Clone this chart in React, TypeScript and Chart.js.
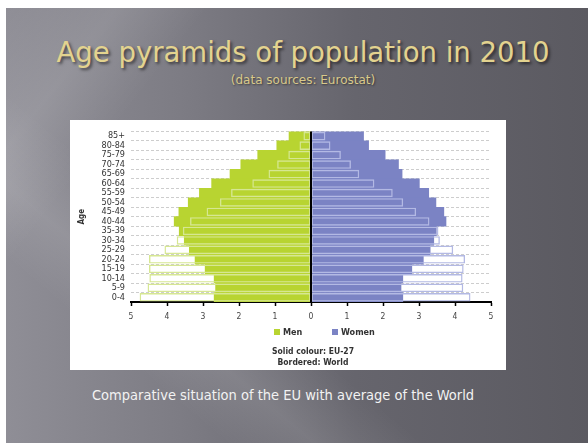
import React, { useEffect, useRef } from "react";
import { Chart, registerables } from "chart.js";

Chart.register(...registerables);

// ---- data (percent of total population) ----
const ageGroups = [
  "85+", "80-84", "75-79", "70-74", "65-69", "60-64", "55-59", "50-54", "45-49",
  "40-44", "35-39", "30-34", "25-29", "20-24", "15-19", "10-14", "5-9", "0-4",
];
const menEU = [0.61, 0.95, 1.48, 1.95, 2.25, 2.76, 3.1, 3.41, 3.67, 3.8, 3.66, 3.52, 3.38, 3.22, 2.94, 2.69, 2.65, 2.69];
const menWorld = [0.21, 0.32, 0.63, 0.94, 1.18, 1.63, 2.22, 2.53, 2.9, 3.36, 3.56, 3.73, 4.07, 4.5, 4.5, 4.49, 4.54, 4.76];
const womenEU = [1.46, 1.6, 2.06, 2.43, 2.53, 3.01, 3.27, 3.47, 3.69, 3.75, 3.48, 3.41, 3.31, 3.12, 2.8, 2.55, 2.5, 2.55];
const womenWorld = [0.4, 0.54, 0.83, 1.11, 1.34, 1.76, 2.27, 2.56, 2.92, 3.29, 3.54, 3.58, 3.95, 4.28, 4.24, 4.21, 4.23, 4.43];
const axisMin = -5;
const axisMax = 5;
const legendLabels = ["Men", "Women"];
const noteLines = ["Solid colour: EU-27", "Bordered: World"];

const NARROW = "'Liberation Sans Narrow', 'DejaVu Sans Condensed', 'Arial Narrow', sans-serif";

const extrasPlugin = {
  id: "pyramidExtras",
  afterDatasetsDraw(chart: any) {
    const { ctx, chartArea, scales } = chart;
    const x0 = scales.x.getPixelForValue(0);
    ctx.save();
    ctx.strokeStyle = "#000";
    ctx.lineWidth = 2;
    ctx.beginPath();
    ctx.moveTo(x0, chartArea.top);
    ctx.lineTo(x0, chartArea.bottom);
    ctx.stroke();
    ctx.restore();
  },
  afterDraw(chart: any) {
    const { ctx, chartArea, scales } = chart;
    const x0 = scales.x.getPixelForValue(0);
    const ds = chart.data.datasets;
    const offsets = [-37, 21];
    ctx.save();
    ctx.font = `bold 9px ${NARROW}`;
    ctx.textBaseline = "middle";
    ctx.textAlign = "left";
    const ly = chartArea.bottom + 30;
    legendLabels.forEach((lab, i) => {
      const sx = x0 + offsets[i];
      ctx.fillStyle = ds[i].backgroundColor;
      ctx.fillRect(sx, ly - 3, 6, 6);
      ctx.fillStyle = "#333";
      ctx.fillText(lab, sx + 9, ly + 0.5);
    });
    ctx.textAlign = "center";
    ctx.font = `bold 8.5px ${NARROW}`;
    noteLines.forEach((t, i) => {
      ctx.fillText(t, x0 + 2, chartArea.bottom + 50 + i * 10.5);
    });
    ctx.restore();
  },
};

function PyramidChart() {
  const ref = useRef<HTMLCanvasElement | null>(null);
  useEffect(() => {
    if (!ref.current) return;
    const chart = new Chart(ref.current, {
      type: "bar",
      data: {
        labels: ageGroups,
        datasets: [
          {
            label: legendLabels[0],
            data: menEU.map((v) => -v),
            backgroundColor: "#b8d431",
            borderWidth: 0,
            barPercentage: 1,
            categoryPercentage: 1,
            grouped: false,
            order: 1,
          },
          {
            label: legendLabels[1],
            data: womenEU,
            backgroundColor: "#7b83c4",
            borderWidth: 0,
            barPercentage: 1,
            categoryPercentage: 1,
            grouped: false,
            order: 1,
          },
          {
            label: "Men (World)",
            data: menWorld.map((v) => -v),
            backgroundColor: "rgba(255,255,255,0)",
            borderColor: "#d6e792",
            borderWidth: 1.4,
            borderSkipped: false,
            barPercentage: 0.9,
            categoryPercentage: 1,
            grouped: false,
            order: 0,
          },
          {
            label: "Women (World)",
            data: womenWorld,
            backgroundColor: "rgba(255,255,255,0)",
            borderColor: "#b3b9e4",
            borderWidth: 1.4,
            borderSkipped: false,
            barPercentage: 0.9,
            categoryPercentage: 1,
            grouped: false,
            order: 0,
          },
        ],
      },
      options: {
        indexAxis: "y",
        animation: false,
        responsive: false,
        events: [],
        layout: { padding: { top: 11, right: 15, left: 0, bottom: 0 } },
        plugins: {
          legend: { display: false },
          tooltip: { enabled: false },
          title: { display: false },
        },
        scales: {
          x: {
            type: "linear",
            min: axisMin,
            max: axisMax,
            afterFit: (s: any) => {
              s.height = 68;
            },
            ticks: {
              stepSize: 1,
              padding: 6,
              color: "#444",
              font: { size: 8.5, family: NARROW },
              callback: (v: any) => String(Math.abs(Number(v))),
            },
            grid: {
              drawOnChartArea: false,
              drawTicks: true,
              tickLength: 4,
              tickColor: "#000",
              tickWidth: 1.5,
            },
            border: { display: true, color: "#000", width: 2 },
          },
          y: {
            type: "category",
            afterFit: (s: any) => {
              s.width = 61;
            },
            ticks: {
              padding: 6,
              color: "#333",
              autoSkip: false,
              font: { size: 9, family: NARROW },
            },
            grid: {
              color: "#cdcdcd",
              lineWidth: 1,
              drawTicks: false,
            },
            border: { display: false, dash: [3, 2] },
            title: {
              display: true,
              text: "Age",
              color: "#333",
              font: { size: 8, weight: "bold", family: NARROW },
              padding: { top: 7, bottom: 0 },
            },
          },
        },
      },
      plugins: [extrasPlugin],
    } as any);
    return () => chart.destroy();
  }, []);
  return <canvas ref={ref} width={436} height={250} style={{ display: "block" }} />;
}

export default function App() {
  return (
    <div
      style={{
        position: "absolute",
        left: 6,
        top: 8,
        width: 582,
        height: 435,
        overflow: "hidden",
        background:
          "linear-gradient(128deg, rgba(255,255,255,0) 0%, rgba(255,255,255,0.10) 12%, rgba(255,255,255,0) 22%), " +
          "linear-gradient(40deg, rgba(255,255,255,0) 20%, rgba(255,255,255,0.10) 28%, rgba(255,255,255,0) 38%), " +
          "linear-gradient(90deg, #8f8e96 0%, #7d7c84 30%, #66656d 60%, #5b5a61 100%)",
        fontFamily: "'DejaVu Sans', sans-serif",
      }}
    >
      <div
        style={{
          position: "absolute",
          top: 28,
          left: 6,
          width: 582,
          textAlign: "center",
          fontSize: 27.5,
          color: "#e3d38f",
          textShadow: "2px 2px 3px rgba(0,0,0,0.55)",
          whiteSpace: "nowrap",
        }}
      >
        Age pyramids of population in 2010
      </div>
      <div
        style={{
          position: "absolute",
          top: 65,
          left: 6,
          width: 582,
          textAlign: "center",
          fontSize: 12,
          color: "#d9c98a",
          textShadow: "1px 1px 2px rgba(0,0,0,0.5)",
          whiteSpace: "nowrap",
        }}
      >
        (data sources: Eurostat)
      </div>
      <div
        style={{
          position: "absolute",
          left: 64,
          top: 112,
          width: 436,
          height: 250,
          background: "#fff",
        }}
      >
        <PyramidChart />
      </div>
      <div
        style={{
          position: "absolute",
          left: 86,
          top: 379,
          fontSize: 14.5,
          fontFamily: NARROW,
          color: "#f2f2f2",
          whiteSpace: "nowrap",
        }}
      >
        Comparative situation of the EU with average of the World
      </div>
    </div>
  );
}
